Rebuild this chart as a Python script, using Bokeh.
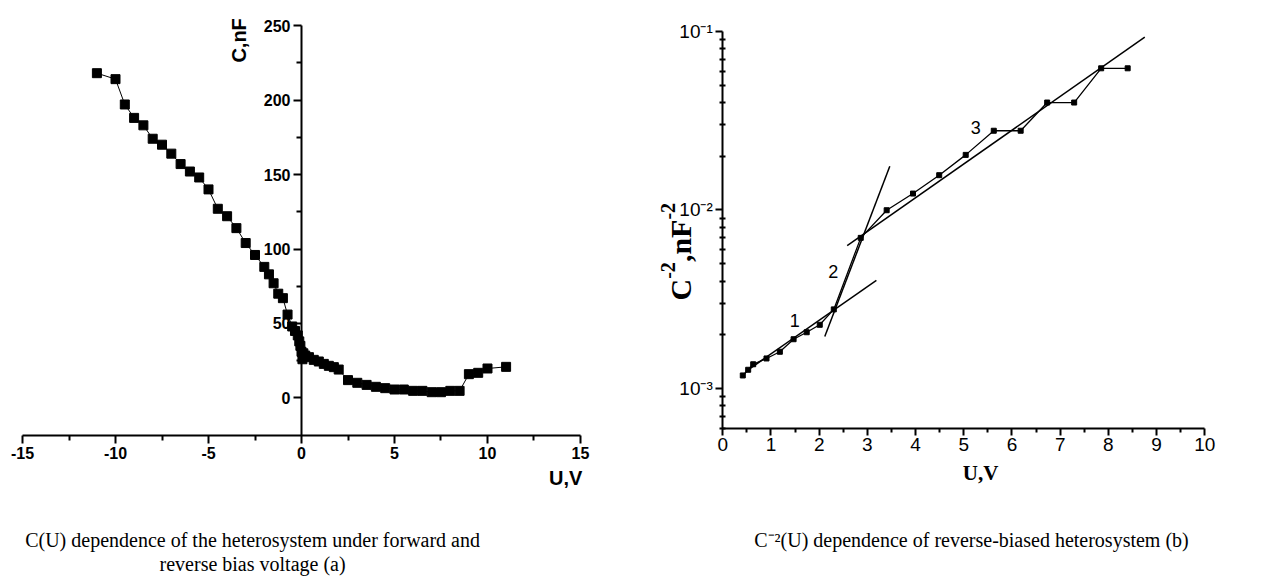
import math
from bokeh.plotting import figure
from bokeh.models import (LinearAxis, LogAxis, FixedTicker, Label, ColumnDataSource,
                          Range1d, LogScale, LinearScale)
from bokeh.embed import file_html
from bokeh.resources import INLINE

# ---------------- data (a): C(U) ----------------
u_a = [-11, -10, -9.5, -9, -8.5, -8, -7.5, -7, -6.5, -6, -5.5, -5, -4.5, -4, -3.5, -3,
       -2.5, -2, -1.75, -1.5, -1.25, -1, -0.75, -0.5, -0.35, -0.2, -0.12, -0.06, 0, 0.05,
       0.1, 0.2, 0.4, 0.66, 0.93, 1.2, 1.47, 1.74, 2.0, 2.5, 3, 3.5, 4, 4.5, 5, 5.5, 6,
       6.5, 7, 7.5, 8, 8.5, 9, 9.5, 10, 11]
c_a = [218, 214, 197, 188, 183, 174, 170, 164, 157, 152, 148, 140, 127, 122, 114, 104,
       96, 88, 83, 77, 70, 67, 56, 48, 45, 42, 38, 35, 31, 26,
       30, 28.5, 27.4, 25.6, 24.5, 22.9, 21.6, 20.7, 19.1, 12, 10.2, 8.8, 7.5, 6.6, 5.7, 5.7, 4.8,
       4.8, 3.9, 3.9, 4.8, 4.8, 16, 16.9, 19.8, 20.9]
xa_ticks = [-15, -10, -5, 0, 5, 10, 15]
xa_labels = ["-15", "-10", "-5", "0", "5", "10", "15"]
ya_ticks = [0, 50, 100, 150, 200, 250]

# ---------------- data (b): C^-2(U) ----------------
u_b = [0.415, 0.527, 0.631, 0.907, 1.184, 1.469, 1.741, 2.012, 2.303, 2.862, 3.40, 3.946,
       4.49, 5.04, 5.622, 6.18, 6.73, 7.29, 7.85, 8.40]
c2_b = [1.183e-3, 1.273e-3, 1.367e-3, 1.473e-3, 1.606e-3, 1.888e-3, 2.066e-3, 2.274e-3,
        2.774e-3, 6.98e-3, 9.97e-3, 1.236e-2, 1.567e-2, 2.036e-2, 2.78e-2, 2.78e-2,
        4.0e-2, 4.0e-2, 6.22e-2, 6.22e-2]
fit1_u = [0.527, 3.187]
fit1_c = [1.273e-3, 4.03e-3]
fit2_u = [2.116, 3.465]
fit2_c = [1.955e-3, 1.758e-2]
fit3_u = [2.581, 8.755]
fit3_c = [6.32e-3, 9.29e-2]
xb_ticks = list(range(0, 11))
yb_ticks = [1e-3, 1e-2, 1e-1]
yb_labels = ["10\u207b\u00b3", "10\u207b\u00b2", "10\u207b\u00b9"]

SANS = "Liberation Sans"
SERIF = "Liberation Serif"

# One canvas; panel (a) uses the default ranges, panel (b) uses the "b" ranges.
p = figure(width=1271, height=576, x_range=(-16.183, 52.151), y_range=(-119.80, 266.78),
           x_axis_type=None, y_axis_type=None, output_backend="svg",
           toolbar_location=None, min_border=0, title=None)
p.outline_line_color = None
p.grid.visible = False
p.extra_x_ranges = {"b": Range1d(-14.985, 11.384)}
p.extra_x_scales = {"b": LinearScale()}
p.extra_y_ranges = {"b": Range1d(8.845e-5, 0.14917)}
p.extra_y_scales = {"b": LogScale()}


def style(ax, font, bold, size, tick_out, minor_out, minor_in=0):
    ax.axis_line_width = 2
    ax.axis_line_color = "black"
    ax.major_tick_line_width = 2
    ax.minor_tick_line_width = 2
    ax.major_tick_line_color = "black"
    ax.minor_tick_line_color = "black"
    ax.major_tick_out = tick_out
    ax.major_tick_in = 0
    ax.minor_tick_out = minor_out
    ax.minor_tick_in = minor_in
    ax.major_label_text_font = font
    ax.major_label_text_font_style = "bold" if bold else "normal"
    ax.major_label_text_font_size = size
    ax.major_label_text_color = "black"


# ----- panel (a) axes -----
xa = LinearAxis(ticker=FixedTicker(ticks=xa_ticks,
                                   minor_ticks=[-12.5, -7.5, -2.5, 2.5, 7.5, 12.5]),
                fixed_location=-25, bounds=(-15, 15))
xa.major_label_overrides = {t: l for t, l in zip(xa_ticks, xa_labels)}
ya = LinearAxis(ticker=FixedTicker(ticks=ya_ticks, minor_ticks=[25, 75, 125, 175, 225]),
                fixed_location=0, bounds=(-25, 250))
style(xa, SANS, True, "16px", 8, 5)
style(ya, SANS, True, "16px", 8, 5)
xa.major_label_standoff = 4
ya.major_label_standoff = 3
p.add_layout(xa, "below")
p.add_layout(ya, "left")

src_a = ColumnDataSource(dict(u=u_a, c=c_a))
p.line("u", "c", source=src_a, line_color="black", line_width=1)
p.scatter("u", "c", source=src_a, marker="square", size=9, fill_color="black",
          line_color="black")

p.add_layout(Label(x=-3.36, y=240, text="C,nF", angle=math.pi / 2, text_color="black",
                   text_align="center", text_baseline="middle", text_font=SANS,
                   text_font_style="bold", text_font_size="20px"))
p.add_layout(Label(x=14.2, y=-54, text="U,V", text_align="center", text_color="black",
                   text_baseline="middle", text_font=SANS, text_font_style="bold",
                   text_font_size="20px"))
p.add_layout(Label(x=-2.63, y=-95.0, text_color="black",
                   text="C(U) dependence of the heterosystem under forward and",
                   text_align="center", text_baseline="middle", text_font=SERIF,
                   text_font_size="20px"))
p.add_layout(Label(x=-2.63, y=-111.1, text="reverse bias voltage (a)", text_color="black",
                   text_align="center", text_baseline="middle", text_font=SERIF,
                   text_font_size="20px"))

# ----- panel (b) axes -----
minor_b = []
for d in (-4, -3, -2):
    for k in range(2, 10):
        v = k * 10.0 ** d
        if 6e-4 <= v < 0.1:
            minor_b.append(v)
xb = LinearAxis(x_range_name="b", y_range_name="b",
                ticker=FixedTicker(ticks=xb_ticks, minor_ticks=[i + 0.5 for i in range(10)]),
                fixed_location=6.0e-4, bounds=(0, 10))
yb = LogAxis(x_range_name="b", y_range_name="b",
             ticker=FixedTicker(ticks=yb_ticks, minor_ticks=minor_b),
             fixed_location=0, bounds=(6.0e-4, 0.1))
yb.major_label_overrides = {t: l for t, l in zip(yb_ticks, yb_labels)}
style(xb, SANS, False, "19px", 7, 4)
style(yb, SANS, False, "19px", 7, 3, 3)
xb.major_label_standoff = 3
yb.major_label_standoff = 3
p.add_layout(xb, "below")
p.add_layout(yb, "left")

src_b = ColumnDataSource(dict(u=u_b, c=c2_b))
p.line("u", "c", source=src_b, line_color="black", line_width=1.3,
       x_range_name="b", y_range_name="b")
p.scatter("u", "c", source=src_b, marker="square", size=5, fill_color="black",
          line_color="black", x_range_name="b", y_range_name="b")
for fu, fc in ((fit1_u, fit1_c), (fit2_u, fit2_c), (fit3_u, fit3_c)):
    p.line(fu, fc, line_color="black", line_width=1.5, x_range_name="b", y_range_name="b")

for tx, ty, tt in ((1.494, 2.40e-3, "1"), (2.29, 4.54e-3, "2"), (5.25, 2.91e-2, "3")):
    p.add_layout(Label(x=tx, y=ty, text=tt, text_align="center", text_baseline="middle",
                       text_color="black", text_font=SANS, text_font_size="18px",
                       x_range_name="b", y_range_name="b"))


# y title of (b): "C^-2,nF^-2", written bottom-to-top in pieces (main text + superscripts)
def bx(px):
    return (px - 722.3) / 48.2


def by(py):
    return 10 ** (-3 + (388 - py) / 178.5)


title_pieces = [("C", 30, 680, 300), ("-2", 20, 668, 278.3), (",nF", 30, 680, 261.6),
                ("-2", 20, 668, 219.1)]
for txt, fs, px, py in title_pieces:
    p.add_layout(Label(x=bx(px), y=by(py), text=txt, angle=math.pi / 2,
                       text_align="left", text_baseline="alphabetic", text_color="black",
                       text_font=SERIF, text_font_style="bold", text_font_size=f"{fs}px",
                       x_range_name="b", y_range_name="b"))

p.add_layout(Label(x=5.35, y=3.38e-4, text="U,V", text_align="center",
                   text_baseline="middle", text_color="black", text_font=SERIF,
                   text_font_style="bold", text_font_size="21px",
                   x_range_name="b", y_range_name="b"))
p.add_layout(Label(x=5.16, y=1.42e-4, text_color="black",
                   text="C\u207b\u00b2(U) dependence of reverse-biased heterosystem (b)",
                   text_align="center", text_baseline="middle", text_font=SERIF,
                   text_font_size="20px", x_range_name="b", y_range_name="b"))

open("out.html", "w").write(file_html(p, INLINE))
